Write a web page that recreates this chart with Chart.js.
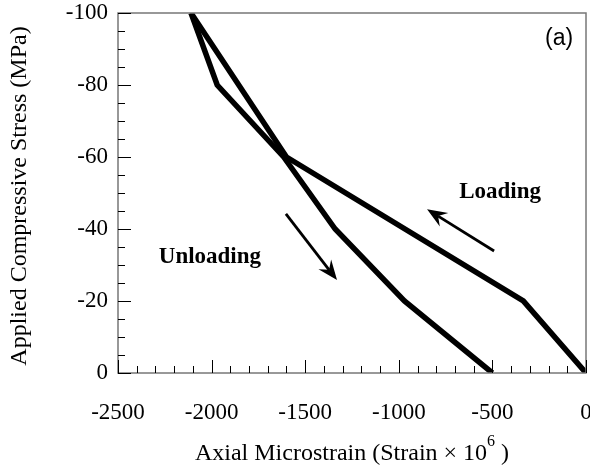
<!DOCTYPE html>
<html>
<head>
<meta charset="utf-8">
<script src="https://cdn.jsdelivr.net/npm/chart.js@4"></script>
<style>
  html, body { margin: 0; padding: 0; background: #fff; }
  #wrap { width: 590px; height: 471px; }
</style>
</head>
<body>
<div id="wrap"><canvas id="c" width="590" height="471"></canvas></div>
<script>
// loading branch (strain in microstrain, stress in MPa)
const loadStrain = [0, -335, -1600, -2110];
const loadStress = [0, -20, -60, -100];

// unloading branch
const unloadStrain = [-2110, -1970, -1615, -1340, -970, -500];
const unloadStress = [-100, -80, -60, -40, -20, 0];

// direction arrows, [tail, tip] in data units
const loadArrow = [[-491, -33.9], [-849, -45.5]];
const unloadArrow = [[-1603, -44.2], [-1330, -25.8]];

const SERIF = "'Liberation Serif', 'Times New Roman', serif";
const SANS = "'Liberation Sans', Arial, sans-serif";

function toPoints(xs, ys) {
  return xs.map((x, i) => ({ x, y: ys[i] }));
}

function drawArrow(ctx, x1, y1, x2, y2) {
  const ang = Math.atan2(y2 - y1, x2 - x1);
  const len = 20, half = 8, notch = 13;
  ctx.save();
  ctx.strokeStyle = "#000";
  ctx.fillStyle = "#000";
  ctx.lineWidth = 2.8;
  ctx.beginPath();
  ctx.moveTo(x1, y1);
  ctx.lineTo(x2 - Math.cos(ang) * notch, y2 - Math.sin(ang) * notch);
  ctx.stroke();
  ctx.translate(x2, y2);
  ctx.rotate(ang);
  ctx.beginPath();
  ctx.moveTo(0, 0);
  ctx.lineTo(-len, -half);
  ctx.lineTo(-notch, 0);
  ctx.lineTo(-len, half);
  ctx.closePath();
  ctx.fill();
  ctx.restore();
}

// stop Chart.js from reserving room for overhanging tick labels
function noPad(s) {
  s.paddingLeft = 0;
  s.paddingRight = 0;
  s.paddingTop = 0;
  s.paddingBottom = 0;
}

const decor = {
  id: "decor",
  afterDatasetsDraw(chart) {
    const { ctx, chartArea: a, scales: { x, y } } = chart;

    // frame
    ctx.save();
    ctx.strokeStyle = "#777";
    ctx.lineWidth = 1.5;
    ctx.strokeRect(a.left, a.top, a.right - a.left, a.bottom - a.top);

    // inward ticks on bottom and left
    ctx.strokeStyle = "#000";
    ctx.lineWidth = 1;
    ctx.beginPath();
    for (let v = -2500; v <= 0; v += 100) {
      const px = Math.round(x.getPixelForValue(v)) + 0.5;
      const l = v % 500 === 0 ? 13 : 7;
      ctx.moveTo(px, a.bottom);
      ctx.lineTo(px, a.bottom - l);
    }
    for (let v = -100; v <= 0; v += 5) {
      const py = Math.round(y.getPixelForValue(v)) + 0.5;
      const l = v % 20 === 0 ? 13 : 7;
      ctx.moveTo(a.left, py);
      ctx.lineTo(a.left + l, py);
    }
    ctx.stroke();

    // arrows
    for (const arr of [loadArrow, unloadArrow]) {
      drawArrow(ctx,
        x.getPixelForValue(arr[0][0]), y.getPixelForValue(arr[0][1]),
        x.getPixelForValue(arr[1][0]), y.getPixelForValue(arr[1][1]));
    }

    // labels
    ctx.fillStyle = "#000";
    ctx.textAlign = "center";
    ctx.textBaseline = "middle";
    ctx.font = "bold 23px " + SERIF;
    ctx.fillText("Loading", x.getPixelForValue(-459), y.getPixelForValue(-50.3));
    ctx.fillText("Unloading", x.getPixelForValue(-2009), y.getPixelForValue(-32.2));
    ctx.font = "23px " + SANS;
    ctx.fillText("(a)", x.getPixelForValue(-144), y.getPixelForValue(-93));

    // axis titles
    ctx.font = "24px " + SERIF;
    ctx.save();
    ctx.translate(20, 196);
    ctx.rotate(-Math.PI / 2);
    ctx.fillText("Applied Compressive Stress (MPa)", 0, 0);
    ctx.restore();

    const main = "Axial Microstrain (Strain \u00d7 10";
    const sup = "6";
    const tail = " )";
    const wMain = ctx.measureText(main).width;
    ctx.font = "16px " + SERIF;
    const wSup = ctx.measureText(sup).width;
    ctx.font = "24px " + SERIF;
    const wTail = ctx.measureText(tail).width;
    const total = wMain + wSup + wTail;
    let sx = (a.left + a.right) / 2 - total / 2;
    const ty = 454;
    ctx.textAlign = "left";
    ctx.fillText(main, sx, ty);
    sx += wMain;
    ctx.font = "16px " + SERIF;
    ctx.fillText(sup, sx, ty - 12);
    sx += wSup;
    ctx.font = "24px " + SERIF;
    ctx.fillText(tail, sx, ty);
    ctx.restore();
  }
};

new Chart(document.getElementById("c").getContext("2d"), {
  type: "scatter",
  data: {
    datasets: [
      {
        label: "Loading",
        data: toPoints(loadStrain, loadStress),
        showLine: true,
        borderColor: "#000",
        borderWidth: 5.5,
        pointRadius: 0,
        tension: 0
      },
      {
        label: "Unloading",
        data: toPoints(unloadStrain, unloadStress),
        showLine: true,
        borderColor: "#000",
        borderWidth: 5.5,
        pointRadius: 0,
        tension: 0
      }
    ]
  },
  options: {
    responsive: false,
    animation: false,
    layout: { padding: { left: 0, top: 13, right: 4, bottom: 0 } },
    plugins: {
      legend: { display: false },
      tooltip: { enabled: false }
    },
    scales: {
      x: {
        type: "linear",
        min: -2500,
        max: 0,
        grid: { display: false, drawTicks: false },
        border: { display: false },
        ticks: {
          stepSize: 500,
          padding: 26,
          color: "#000",
          font: { family: SERIF, size: 23 },
          callback: v => String(v)
        },
        afterFit: s => { s.height = 98; noPad(s); }
      },
      y: {
        type: "linear",
        min: -100,
        max: 0,
        reverse: true,
        grid: { display: false, drawTicks: false },
        border: { display: false },
        ticks: {
          stepSize: 20,
          padding: 10,
          color: "#000",
          font: { family: SERIF, size: 23 },
          callback: v => String(v)
        },
        afterFit: s => { s.width = 118; noPad(s); }
      }
    }
  },
  plugins: [decor]
});
</script>
</body>
</html>
